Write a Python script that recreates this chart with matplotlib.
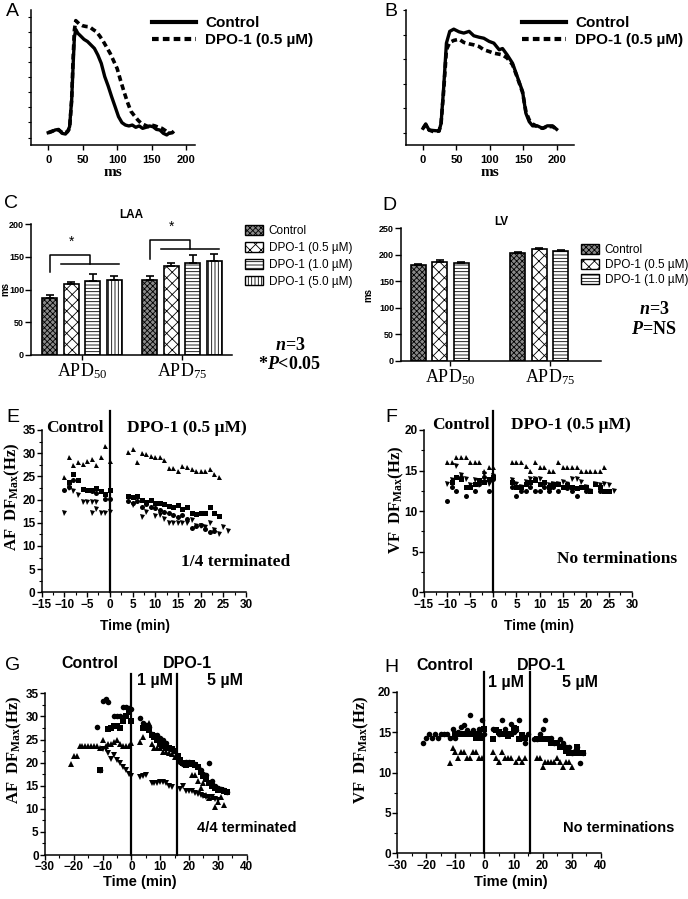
import matplotlib.pyplot as plt
from matplotlib.patches import Patch
from matplotlib.ticker import MultipleLocator

plt.rcParams['font.family'] = 'Liberation Sans'
plt.rcParams['mathtext.fontset'] = 'custom'
plt.rcParams['mathtext.default'] = 'regular'
plt.rcParams['mathtext.it'] = 'Liberation Serif:italic:bold'
plt.rcParams['hatch.linewidth'] = 0.6

SANS = 'Liberation Sans'
SERIF = 'Liberation Serif'

# ---------------- data ----------------
# A: LAA action potential (ms, arbitrary units)
a_t_ctrl = [0, 5, 10, 15, 20, 25, 28, 31, 34, 36, 38, 40, 43, 47, 52, 57, 62, 67, 72, 77, 82, 87,
            92, 97, 102, 107, 112, 117, 122, 127, 132, 137, 142, 147, 152, 157, 162, 167, 172, 175]
a_v_ctrl = [0.82, 0.89, 1.0, 1.04, 0.78, 0.73, 0.89, 1.22, 3.0, 5.2, 7.2, 7.7, 7.45, 7.27, 7.04, 6.9,
            6.67, 6.44, 6.0, 5.44, 4.56, 3.93, 3.22, 2.56, 1.89, 1.49, 1.33, 1.27, 1.33, 1.18, 1.27,
            1.11, 1.18, 1.27, 1.22, 1.04, 1.0, 0.78, 0.67, 0.78]
a_t_dpo = [0, 8, 15, 22, 28, 31, 34, 36, 38, 40, 45, 50, 55, 60, 65, 70, 75, 80, 85, 90, 95, 100,
           105, 110, 115, 120, 125, 130, 135, 140, 145, 150, 155, 160, 165, 170, 175, 180, 185]
a_v_dpo = [0.82, 0.96, 1.0, 0.78, 0.89, 1.1, 3.0, 5.67, 7.67, 8.29, 8.07, 7.95, 7.9, 7.88, 7.7,
           7.55, 7.25, 6.9, 6.5, 6.1, 5.6, 5.1, 4.3, 3.55, 2.85, 2.25, 1.95, 1.67, 1.44, 1.33, 1.22,
           1.33, 1.27, 1.18, 1.11, 0.96, 0.78, 0.82, 1.04]

# B: LV action potential
b_t = [0, 4, 9, 16, 24, 27, 31, 35, 40, 46, 54, 61, 69, 76, 84, 91, 99, 106, 114, 119, 126, 134,
       141, 149, 154, 159, 164, 171, 179, 186, 194, 200]
b_v_ctrl = [0.68, 0.86, 0.61, 0.59, 0.57, 0.88, 2.38, 4.15, 4.63, 4.72, 4.61, 4.56, 4.63, 4.45,
            4.39, 4.35, 4.22, 4.15, 3.88, 3.93, 3.67, 3.33, 2.79, 2.18, 1.29, 0.95, 0.78, 0.78,
            0.68, 0.78, 0.78, 0.64]
b_v_dpo = [0.68, 0.82, 0.61, 0.54, 0.57, 0.88, 2.24, 3.88, 4.18, 4.26, 4.31, 4.18, 4.12, 4.08,
           4.01, 3.88, 3.81, 3.74, 3.70, 3.67, 3.54, 3.27, 2.76, 2.14, 1.36, 1.02, 0.86, 0.75,
           0.68, 0.75, 0.75, 0.64]

# C / D: APD bar charts
apd_groups = ['$APD_{50}$', '$APD_{75}$']
c_series = ['Control', 'DPO-1 (0.5 µM)', 'DPO-1 (1.0 µM)', 'DPO-1 (5.0 µM)']
c_mean = [[87, 114], [108, 136], [113, 141], [114, 144]]
c_err = [[5, 6], [4, 5], [10, 12], [7, 10]]
d_series = ['Control', 'DPO-1 (0.5 µM)', 'DPO-1 (1.0 µM)']
d_mean = [[181, 203], [187, 210], [184, 206]]
d_err = [[2, 2], [2, 3], [2, 2]]

# E: AF, DPO-1 0.5 uM
e_up_x = [-10, -9, -8, -7, -6, -5, -4, -3, -2, -1, 0,
          4, 5, 6, 7, 8, 9, 10, 11, 12, 13, 14, 15, 16, 17, 18, 19, 20, 21, 22, 23, 24]
e_up_y = [24.9, 29.1, 27.4, 28.0, 27.6, 28.3, 28.7, 27.4, 29.2, 31.5, 28.4,
          30.3, 30.8, 28.1, 30.1, 29.8, 29.3, 29.2, 29.2, 28.5, 26.7, 26.7, 26.1, 27.2, 27.1,
          26.5, 26.2, 26.2, 26.2, 26.6, 25.5, 24.8]
e_sq_x = [-9, -8, -7, -6, -5, -4, -3, -2, -1, 0,
          4, 5, 6, 7, 8, 9, 10, 11, 12, 13, 14, 15, 16, 17, 18, 19, 20, 21, 22, 23, 24]
e_sq_y = [23.8, 25.6, 24.2, 22.2, 22.0, 22.0, 22.5, 21.9, 21.3, 22.0,
          20.8, 20.5, 20.8, 19.9, 19.5, 20.0, 19.3, 19.2, 19.0, 18.6, 18.5, 18.8, 18.0, 18.3,
          17.0, 16.8, 17.2, 17.2, 18.4, 17.0, 16.5]
e_ci_x = [-10, -9, -8, -7, -6, -5, -4, -3, -2, -1, 0,
          4, 5, 6, 7, 8, 9, 10, 11, 12, 13, 14, 15, 16, 17, 18, 19, 20, 21, 22, 23]
e_ci_y = [22.0, 22.8, 24.3, 24.2, 22.3, 22.0, 21.9, 21.5, 21.8, 20.1, 20.1,
          19.6, 19.3, 19.6, 18.5, 19.1, 18.5, 18.1, 17.8, 17.3, 17.0, 16.6, 16.3, 16.6, 15.8,
          13.8, 14.2, 14.5, 13.6, 13.1, 13.2]
e_dn_x = [-10, -9, -8, -7, -6, -5, -4, -3, -4, -3, -2, -1, 0,
          5, 7, 8, 10, 11, 12, 13, 14, 15, 16, 17, 18, 19, 20, 21, 22, 23, 24, 25, 26]
e_dn_y = [17.2, 22.6, 21.9, 21.0, 19.5, 19.5, 19.5, 19.5, 17.2, 18.0, 17.2, 17.2, 17.3,
          18.8, 16.3, 17.3, 16.4, 16.6, 15.7, 14.9, 14.9, 14.9, 14.9, 14.9, 15.5, 14.2, 14.2,
          14.0, 14.9, 13.4, 12.6, 14.0, 13.3]

# F: VF, DPO-1 0.5 uM
f_up_x = [-10, -9, -8, -7, -6, -5, -4, -3, -2, -1, 0,
          4, 5, 6, 7, 8, 9, 10, 11, 12, 13, 14, 15, 16, 17, 18, 19, 20, 21, 22, 23, 24]
f_up_y = [16.1, 16.1, 16.7, 16.7, 16.7, 16.1, 16.1, 16.1, 14.9, 15.4, 15.4,
          16.1, 16.1, 16.1, 15.6, 14.9, 16.1, 15.4, 15.4, 14.9, 14.9, 16.1, 15.4, 15.4, 15.4,
          15.4, 14.9, 14.9, 14.9, 14.9, 14.9, 15.4]
f_dn_x = [-10, -9, -8, -7, -6, -5, -4, -3, -2, -1, 0,
          4, 5, 6, 7, 8, 9, 10, 11, 12, 13, 14, 15, 16, 17, 18, 19, 20, 21, 22, 23, 24, 25, 26]
f_dn_y = [13.3, 13.9, 15.6, 14.4, 14.0, 13.2, 13.9, 13.2, 14.6, 13.3, 14.3,
          13.9, 13.3, 13.0, 13.6, 14.0, 14.0, 14.0, 13.4, 13.2, 13.4, 13.3, 13.6, 13.3, 14.0,
          14.0, 13.6, 13.0, 12.5, 13.4, 13.2, 13.3, 13.2, 12.5]
f_sq_x = [-9, -8, -7, -6, -5, -4, -3, -2, -1, 0,
          4, 5, 6, 7, 8, 9, 10, 11, 12, 13, 14, 15, 16, 17, 18, 19, 20, 21, 22, 23, 24, 25]
f_sq_y = [13.6, 14.2, 14.0, 13.0, 13.0, 13.4, 13.9, 13.6, 14.0, 14.2,
          13.6, 13.0, 13.0, 13.4, 13.6, 13.8, 13.4, 13.6, 13.0, 13.4, 13.4, 13.0, 13.2, 13.0,
          12.8, 13.0, 13.0, 12.5, 13.4, 13.0, 12.5, 12.5]
f_ci_x = [-10, -9, -8, -7, -6, -5, -4, -3, -2, -1, 0,
          4, 5, 6, 7, 8, 9, 10, 11, 12, 13, 14, 15, 16, 17, 18, 19, 20, 21, 22, 23, 24]
f_ci_y = [11.3, 13.0, 12.5, 14.2, 11.9, 13.0, 12.5, 13.4, 14.2, 12.5, 14.0,
          13.0, 11.9, 12.5, 12.5, 13.0, 12.5, 12.5, 13.0, 12.5, 13.0, 12.5, 13.0, 12.8, 12.5,
          11.9, 13.0, 12.5, 12.5, 13.4, 12.5, 12.5]

# G: AF, DPO-1 1 then 5 uM
g_ci_x = [-12, -11, -10, -9, -8, -6, -5, -4, -3, -2, -1, 0,
          3, 4, 5, 6, 7, 8, 9, 10, 11, 12, 13, 14,
          17, 18, 19, 20, 21, 22, 23, 24, 25, 26, 27, 28, 29, 30, 31, 32, 33]
g_ci_y = [27.7, 18.3, 33.3, 33.8, 33.2, 30.0, 30.0, 30.0, 32.0, 32.0, 31.8, 31.5,
          29.6, 28.5, 28.1, 27.8, 26.2, 26.0, 26.0, 25.3, 24.8, 24.2, 23.2, 23.0,
          20.2, 19.8, 20.2, 20.2, 20.0, 19.8, 19.1, 18.5, 17.5, 17.3, 20.0, 16.0, 15.0, 14.5,
          14.2, 14.0, 13.7]
g_sq_x = [-11, -8, -7, -6, -5, -4, -3, -2, -1, 0,
          4, 5, 6, 7, 8, 9, 10, 11, 12, 13, 14, 15,
          16, 17, 18, 19, 20, 21, 22, 23, 24, 25, 26, 27, 28, 29, 30, 31, 32, 33]
g_sq_y = [18.5, 27.3, 27.5, 28.0, 28.0, 27.5, 29.0, 30.0, 31.0, 29.0,
          27.5, 28.0, 27.0, 26.0, 25.5, 25.0, 24.0, 23.5, 23.2, 23.2, 23.0, 22.5,
          21.5, 20.5, 20.0, 19.5, 19.8, 20.0, 19.5, 19.0, 18.0, 17.0, 16.5, 15.5, 15.0, 14.5,
          14.0, 14.0, 13.8, 13.6]
g_up_x = [-21, -20, -19, -18, -17, -16, -15, -14, -13, -12, -11, -10, -9, -8, -7, -6, -5, -4,
          -3, -2, -1, 0,
          3, 4, 5, 6, 7, 8, 9, 10, 11, 12, 13, 14, 15,
          21, 22, 23, 24, 25, 26, 27, 28, 29, 30, 31, 32]
g_up_y = [19.7, 21.5, 21.5, 23.7, 23.5, 23.5, 23.5, 23.5, 23.7, 23.7, 23.2, 25.0, 23.5, 24.0,
          24.0, 24.5, 25.0, 24.0, 23.7, 23.7, 23.7, 24.3,
          24.5, 25.6, 27.6, 28.5, 24.0, 23.1, 23.1, 23.1, 22.2, 22.2, 22.0, 21.9, 21.2,
          17.3, 17.3, 16.0, 14.5, 15.5, 13.0, 12.3, 12.5, 10.4, 11.5, 12.5, 10.8]
g_dn_x = [-10, -9, -8, -7, -6, -5, -4, -3, -2, -1, 0,
          3, 4, 5, 7, 8, 9, 10, 11, 12, 13, 14,
          17, 18, 19, 20, 21, 22, 23, 24, 25, 26, 27, 28, 29, 30]
g_dn_y = [23.0, 23.0, 22.0, 20.7, 21.6, 20.6, 20.0, 19.1, 18.3, 17.5, 17.1,
          16.8, 17.0, 17.3, 15.5, 15.5, 15.5, 15.8, 15.8, 15.5, 15.0, 14.8,
          14.3, 15.0, 13.8, 13.8, 13.8, 13.5, 13.2, 13.0, 12.8, 12.5, 12.5, 12.5, 12.2, 12.0]

# H: VF, DPO-1 1 then 5 uM
h_ci_x = [-21, -20, -19, -18, -17, -16, -15, -14, -13, -12, -11, -10, -9, -8, -7, -6, -5, -4,
          -3, -2, -1, 0,
          3, 4, 5, 6, 7, 8, 9, 10, 11, 12, 13, 14, 15,
          17, 18, 19, 20, 21, 22, 23, 24, 25, 26, 27, 28, 29, 30, 31, 32, 33, 34]
h_ci_y = [13.6, 14.3, 14.8, 14.3, 14.8, 14.3, 14.8, 14.8, 14.8, 14.3, 15.4, 14.3, 15.0, 15.6,
          15.9, 15.2, 17.1, 15.3, 14.8, 15.4, 16.5, 14.8,
          15.4, 15.3, 14.8, 16.5, 15.4, 14.8, 16.0, 15.0, 15.3, 16.5, 14.3, 13.6, 14.8,
          14.2, 14.2, 14.8, 15.4, 16.5, 14.2, 14.3, 13.6, 13.6, 14.2, 13.6, 13.1, 13.1, 12.4,
          12.6, 13.1, 11.2, 12.4]
h_sq_x = [-10, -9, -8, -7, -6, -5, -4, -3, -2, -1, 0,
          3, 4, 5, 6, 7, 8, 9, 10, 11, 12, 13, 14,
          18, 19, 20, 21, 22, 23, 24, 25, 26, 27, 28, 29, 30, 31, 32, 33, 34]
h_sq_y = [14.8, 14.8, 14.8, 14.8, 14.8, 14.8, 14.8, 14.3, 14.8, 14.3, 15.4,
          14.2, 15.3, 15.0, 14.8, 14.8, 14.5, 14.8, 15.5, 15.4, 14.2, 14.7, 14.3,
          14.2, 14.2, 14.2, 14.2, 14.2, 13.6, 13.6, 13.6, 13.1, 13.1, 12.6, 12.4, 12.4, 12.4,
          13.1, 12.4, 12.4]
h_up_x = [-12, -11, -10, -9, -8, -7, -6, -5, -4, -3, -2, -1,
          3, 4, 5, 6, 7, 8, 9, 11, 12, 13, 14,
          18, 19, 20, 21, 22, 23, 24, 25, 26, 27, 28, 29, 30]
h_up_y = [11.2, 13.0, 12.5, 11.8, 12.5, 12.5, 11.8, 11.8, 12.5, 12.5, 11.8, 11.8,
          12.5, 11.8, 11.3, 12.5, 11.8, 11.8, 11.8, 11.3, 11.8, 11.3, 11.8,
          11.8, 11.8, 10.7, 11.3, 11.3, 11.3, 11.3, 11.8, 11.3, 10.7, 11.3, 11.3, 10.7]

ef_onset = [0]
gh_onset = [0, 15.7]

# ---------------- layout helpers ----------------
W, H = 688, 899
fig = plt.figure(figsize=(W / 100, H / 100), dpi=100)


def add_ax(l, t, r, b):
    return fig.add_axes([l / W, 1 - b / H, (r - l) / W, (b - t) / H])


def ftext(x, y, s, **kw):
    kw.setdefault('ha', 'center')
    kw.setdefault('va', 'center')
    fig.text(x / W, 1 - y / H, s, **kw)


def style_ax(ax, size=8):
    for s in ['top', 'right']:
        ax.spines[s].set_visible(False)
    for s in ['left', 'bottom']:
        ax.spines[s].set_linewidth(1.1)
    ax.tick_params(labelsize=size, width=1.0, length=3.5)
    for lab in ax.get_xticklabels() + ax.get_yticklabels():
        lab.set_fontweight('bold')


# ---------------- A and B: action potentials ----------------
for (l, r, xl, yl, yt, tc, vc, td, vd, lx, label, ltr) in [
        (31, 195, (-25, 213), (0, 9), [0.5 + i for i in range(9)],
         a_t_ctrl, a_v_ctrl, a_t_dpo, a_v_dpo, 152, 'A', 12),
        (406, 574, (-25.5, 226), (0, 5.5), [0.5 + i for i in range(6)],
         b_t, b_v_ctrl, b_t, b_v_dpo, 522, 'B', 391)]:
    ax = add_ax(l, 10, r, 145)
    ax.plot(tc, vc, color='k', lw=2.4, label='Control')
    ax.plot(td, vd, color='k', lw=2.6, ls=(0, (1.6, 1.0)), label='DPO-1 (0.5 µM)')
    ax.set_xlim(*xl)
    ax.set_ylim(*yl)
    ax.set_xticks([0, 50, 100, 150, 200])
    ax.set_yticks(yt)
    ax.set_yticklabels([])
    style_ax(ax, 8)
    ax.tick_params(axis='y', length=2, width=0.8)
    ax.set_xlabel('ms', fontfamily=SERIF, fontweight='bold', fontsize=11, labelpad=1)
    leg = ax.legend(loc='upper left', bbox_to_anchor=(lx / W, 1 - 16 / H),
                    bbox_transform=fig.transFigure, frameon=False, borderpad=0,
                    borderaxespad=0, handlelength=2.9, handletextpad=0.6,
                    labelspacing=0.2, prop={'family': SANS, 'weight': 'bold', 'size': 11})
    for ln in leg.get_lines():
        ln.set_linewidth(3)
    ftext(ltr, 11, label, fontsize=14)

# ---------------- C and D: APD bars ----------------
hatches = ['xxxxxx', 'xxx', '-----', '|||||']
faces = ['#8a8a8a', 'white', 'white', 'white']


def bar_panel(ax, series, means, errs, nslot, ymax, ystep):
    step, width = 0.215, 0.15
    centers = [0, 1]
    positions = []
    for i in range(len(series)):
        pos = [c + (i - (nslot - 1) / 2) * step for c in centers]
        positions.append(pos)
        ax.bar(pos, means[i], width, color=faces[i], edgecolor='k', hatch=hatches[i],
               lw=1.2, label=series[i], zorder=2)
        ax.errorbar(pos, means[i], yerr=[[0, 0], errs[i]], fmt='none', ecolor='k',
                    elinewidth=1.2, capsize=3, capthick=1.2, zorder=3)
    ax.set_ylim(0, ymax)
    ax.set_yticks(range(0, ymax + 1, ystep))
    ax.set_xticks(centers)
    ax.set_xticklabels(apd_groups, fontfamily=SERIF, fontsize=13)
    style_ax(ax, 6.5)
    for lab in ax.get_xticklabels():
        lab.set_fontweight('normal')
        lab.set_fontfamily(SERIF)
        lab.set_fontsize(13)
    ax.tick_params(axis='x', pad=1)
    ax.tick_params(axis='y', pad=1, length=4)
    ax.set_ylabel('ms', fontweight='bold', fontsize=7)
    handles = [Patch(facecolor=faces[i], edgecolor='k', hatch=hatches[i], lw=1.0)
               for i in range(len(series))]
    return positions, handles


axC = add_ax(31, 224, 232, 355)
posC, hC = bar_panel(axC, c_series, c_mean, c_err, 4, 200, 50)
axC.set_xlim(-0.51, 1.5)
axC.yaxis.set_label_coords((10 - 31) / 201, 0.5)
axC.set_title('LAA', fontweight='bold', fontsize=8.5, pad=4)
# significance brackets (control vs drug bars)
for g, (low, high, star) in enumerate([(126, 153, 173), (147, 175, 196)]):
    x0 = posC[0][g]
    x_lo, x_hi = posC[1][g] - 0.1, posC[3][g] + 0.05
    xm = (x_lo + x_hi) / 2
    y_line = high - (14 if g == 0 else 13)
    axC.plot([x0, x0, xm, xm], [low, high, high, y_line], color='k', lw=1.1, clip_on=False)
    axC.plot([x_lo, x_hi], [y_line, y_line], color='k', lw=1.1, clip_on=False)
    axC.text((x0 + xm) / 2 + 0.02, star, '*', ha='center', va='center', fontsize=10,
             clip_on=False)
axC.legend(hC, c_series, loc='upper left', bbox_to_anchor=(245 / W, 1 - 225 / H),
           bbox_transform=fig.transFigure, frameon=False, borderpad=0, borderaxespad=0,
           handlelength=1.5, handleheight=0.85, handletextpad=0.5, labelspacing=0.42,
           prop={'family': SANS, 'size': 8.5})
ftext(290, 345, r'$\mathit{n}$=3', fontfamily=SERIF, fontweight='bold', fontsize=13)
ftext(290, 365, r'*$\mathit{P}$<0.05', fontfamily=SERIF, fontweight='bold', fontsize=13)
ftext(11, 204, 'C', fontsize=14)

axD = add_ax(401, 228, 601, 361)
posD, hD = bar_panel(axD, d_series, d_mean, d_err, 4, 250, 50)
axD.set_xlim(-0.495, 1.51)
axD.yaxis.set_label_coords((373 - 401) / 200, 0.5)
axD.set_title('LV', fontweight='bold', fontsize=8.5, pad=2)
axD.legend(hD, d_series, loc='upper left', bbox_to_anchor=(581 / W, 1 - 244 / H),
           bbox_transform=fig.transFigure, frameon=False, borderpad=0, borderaxespad=0,
           handlelength=1.5, handleheight=0.85, handletextpad=0.5, labelspacing=0.25,
           prop={'family': SANS, 'size': 8.5})
ftext(654, 310, r'$\mathit{n}$=3', fontfamily=SERIF, fontweight='bold', fontsize=13)
ftext(654, 330, r'$\mathit{P}$=NS', fontfamily=SERIF, fontweight='bold', fontsize=13)
ftext(389, 206, 'D', fontsize=14)


# ---------------- E-H: dominant frequency scatter ----------------
def scatter_panel(ax, sets, xlim, ylim, xmaj, ymaj, onsets, ms):
    for x, y, m in sets:
        ax.plot(x, y, ls='none', marker=m, color='k', ms=ms, mew=0)
    ax.set_xlim(*xlim)
    ax.set_ylim(*ylim)
    ax.xaxis.set_major_locator(MultipleLocator(xmaj))
    ax.xaxis.set_minor_locator(MultipleLocator(xmaj / 2))
    ax.yaxis.set_major_locator(MultipleLocator(ymaj))
    ax.yaxis.set_minor_locator(MultipleLocator(ymaj / 2))
    style_ax(ax, 8.5)
    ax.tick_params(which='minor', length=2, width=0.8)
    ax.tick_params(pad=1)
    for x0 in onsets:
        ax.axvline(x0, ymin=0, ymax=1.12, color='k', lw=1.6, clip_on=False)


axE = add_ax(41.7, 430, 246, 592.3)
scatter_panel(axE, [(e_up_x, e_up_y, '^'), (e_sq_x, e_sq_y, 's'), (e_ci_x, e_ci_y, 'o'),
                    (e_dn_x, e_dn_y, 'v')],
              (-15, 30), (0, 35), 5, 5, ef_onset, 3.6)
ftext(75, 428, 'Control', fontfamily=SERIF, fontweight='bold', fontsize=12.5)
ftext(187, 428, 'DPO-1 (0.5 µM)', fontfamily=SERIF, fontweight='bold', fontsize=12.5)
ftext(236, 562, '1/4 terminated', fontfamily=SERIF, fontweight='bold', fontsize=12.5)
ftext(12, 497, r'AF  DF$_{\mathregular{Max}}$(Hz)', fontfamily=SERIF, fontweight='bold',
      fontsize=12, rotation=90)
ftext(135, 626, 'Time (min)', fontweight='bold', fontsize=10)
ftext(13, 417, 'E', fontsize=14)

axF = add_ax(424, 430, 632, 592.3)
scatter_panel(axF, [(f_up_x, f_up_y, '^'), (f_sq_x, f_sq_y, 's'), (f_ci_x, f_ci_y, 'o'),
                    (f_dn_x, f_dn_y, 'v')],
              (-15, 30), (0, 20), 5, 5, ef_onset, 3.6)
ftext(461, 425, 'Control', fontfamily=SERIF, fontweight='bold', fontsize=12.5)
ftext(571, 425, 'DPO-1 (0.5 µM)', fontfamily=SERIF, fontweight='bold', fontsize=12.5)
ftext(617, 559, 'No terminations', fontfamily=SERIF, fontweight='bold', fontsize=12.5)
ftext(396, 500, r'VF  DF$_{\mathregular{Max}}$(Hz)', fontfamily=SERIF, fontweight='bold',
      fontsize=12, rotation=90)
ftext(539, 626, 'Time (min)', fontweight='bold', fontsize=10)
ftext(391, 417, 'F', fontsize=14)

axG = add_ax(45, 693.3, 246.7, 855)
scatter_panel(axG, [(g_ci_x, g_ci_y, 'o'), (g_sq_x, g_sq_y, 's'), (g_up_x, g_up_y, '^'),
                    (g_dn_x, g_dn_y, 'v')],
              (-30, 40), (0, 35), 10, 5, gh_onset, 4.0)
ftext(90, 663, 'Control', fontweight='bold', fontsize=11.5)
ftext(187, 663, 'DPO-1', fontweight='bold', fontsize=11.5)
ftext(155, 681, '1 µM', fontweight='bold', fontsize=11.5)
ftext(225, 681, '5 µM', fontweight='bold', fontsize=11.5)
ftext(247, 828, '4/4 terminated', fontweight='bold', fontsize=10.5)
ftext(14, 750, r'AF  DF$_{\mathregular{Max}}$(Hz)', fontfamily=SERIF, fontweight='bold',
      fontsize=12, rotation=90)
ftext(140, 882, 'Time (min)', fontweight='bold', fontsize=10.5)
ftext(13, 665, 'G', fontsize=14)

axH = add_ax(397.3, 691.7, 600.7, 853.3)
scatter_panel(axH, [(h_ci_x, h_ci_y, 'o'), (h_sq_x, h_sq_y, 's'), (h_up_x, h_up_y, '^')],
              (-30, 40), (0, 20), 10, 5, gh_onset, 4.0)
ftext(445, 665, 'Control', fontweight='bold', fontsize=11.5)
ftext(541, 665, 'DPO-1', fontweight='bold', fontsize=11.5)
ftext(506, 682, '1 µM', fontweight='bold', fontsize=11.5)
ftext(580, 682, '5 µM', fontweight='bold', fontsize=11.5)
ftext(619, 828, 'No terminations', fontweight='bold', fontsize=10.5)
ftext(361, 750, r'VF  DF$_{\mathregular{Max}}$(Hz)', fontfamily=SERIF, fontweight='bold',
      fontsize=12, rotation=90)
ftext(511, 882, 'Time (min)', fontweight='bold', fontsize=10.5)
ftext(391, 667, 'H', fontsize=14)

fig.savefig('out.png', dpi=100)
